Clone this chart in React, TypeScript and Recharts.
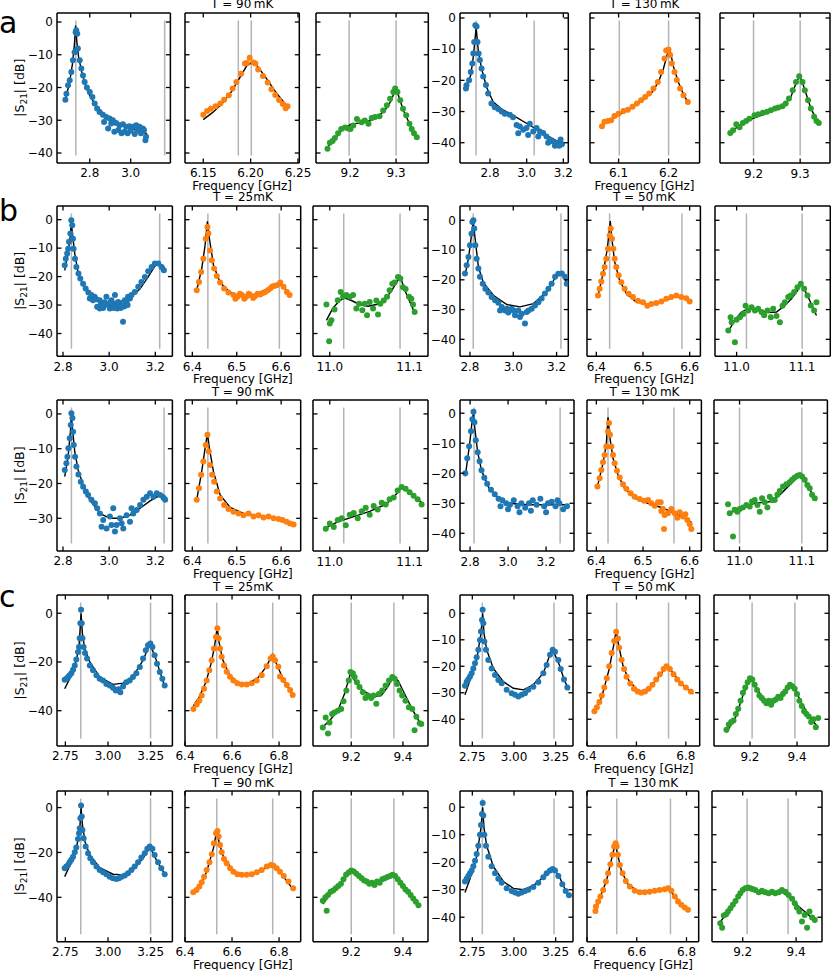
import React from "react";
import { ComposedChart, Scatter, Line, XAxis, YAxis } from "recharts";

type Pt = [number, number];

// ---------------- data ----------------
// row a
const a1Pts: Pt[] = [[2.681,-23.7],[2.686,-21.9],[2.694,-19.3],[2.702,-17.8],[2.710,-15.3],[2.718,-11.7],[2.726,-9.2],[2.731,-3.1],[2.734,-2.5],[2.739,-3.6],[2.742,-8.1],[2.751,-11.7],[2.759,-14.2],[2.767,-16.3],[2.775,-18.3],[2.786,-20],[2.800,-21.4],[2.813,-22.9],[2.824,-24.9],[2.836,-26.4],[2.848,-27.5],[2.864,-28.3],[2.881,-29],[2.897,-29.5],[2.913,-30],[2.929,-30.8],[2.946,-31.5],[2.962,-31.2],[2.978,-32],[2.994,-31.8],[3.011,-32],[3.027,-31.5],[3.043,-32],[3.059,-32.5],[3.072,-36.1],[3.075,-35],[2.870,-30.5],[2.890,-32.5],[2.905,-31],[2.920,-33.5],[2.940,-33],[2.955,-34],[2.970,-33.5],[2.985,-34],[3.000,-33.2],[3.020,-34.2],[3.035,-33],[3.050,-34],[3.065,-33]];
const a1Fit: Pt[] = [[2.678,-24],[2.70,-19],[2.715,-13],[2.725,-7],[2.731,-1.1],[2.737,-6],[2.745,-10.5],[2.76,-15],[2.78,-19.5],[2.80,-22.5],[2.83,-25.5],[2.86,-27.5],[2.90,-29.5],[2.95,-31.2],[3.0,-32.5],[3.05,-33.5],[3.08,-34.1]];
const a1Res = [2.732, 3.166];

const a2Pts: Pt[] = [[6.150,-28.3],[6.154,-27.2],[6.158,-26.5],[6.163,-25.7],[6.168,-24.9],[6.172,-23.7],[6.177,-22.4],[6.181,-20.3],[6.185,-18.3],[6.190,-15.8],[6.194,-12.7],[6.196,-12.5],[6.199,-10.9],[6.203,-12.4],[6.205,-12.7],[6.208,-14.5],[6.213,-16.5],[6.218,-18.5],[6.222,-20.5],[6.226,-22.3],[6.230,-23.8],[6.234,-25],[6.237,-26.3],[6.239,-25.7]];
const a2Fit: Pt[] = [[6.15,-29.8],[6.16,-27.6],[6.17,-24.9],[6.18,-21.2],[6.19,-16.3],[6.196,-13.3],[6.2015,-12.3],[6.207,-13.4],[6.215,-16.5],[6.225,-20.8],[6.235,-24.5],[6.24,-26.2]];
const a2Res = [6.187, 6.2007];

const a3Pts: Pt[] = [[9.151,-38.7],[9.156,-36.9],[9.162,-36.3],[9.167,-35.4],[9.174,-34],[9.181,-32.7],[9.189,-32.2],[9.196,-32.5],[9.201,-32.7],[9.207,-31.6],[9.215,-29.6],[9.225,-30.6],[9.232,-30.1],[9.240,-31.1],[9.247,-29.3],[9.254,-29],[9.264,-28.8],[9.272,-27],[9.280,-25.4],[9.287,-23.4],[9.294,-21.4],[9.298,-20.3],[9.303,-21.4],[9.309,-23.9],[9.315,-26.5],[9.322,-28.5],[9.329,-31.1],[9.334,-32.7],[9.339,-34],[9.345,-35.2]];
const a3Fit: Pt[] = [[9.150,-38.4],[9.167,-35.6],[9.185,-32.7],[9.203,-31.1],[9.225,-30.8],[9.247,-30],[9.264,-28.5],[9.278,-26.5],[9.29,-23.9],[9.298,-20.6],[9.305,-22.4],[9.316,-27],[9.331,-31.6],[9.345,-35.3]];
const a3Res = [9.198, 9.30];

const a4Pts: Pt[] = [[2.669,-22.6],[2.672,-21.6],[2.686,-20],[2.695,-17.3],[2.704,-14.6],[2.709,-11.4],[2.714,-7.7],[2.720,-2.3],[2.727,-2.7],[2.732,-7.7],[2.738,-11.4],[2.745,-13.5],[2.754,-16.2],[2.763,-18.8],[2.778,-21.5],[2.790,-24.2],[2.808,-27.4],[2.826,-28.6],[2.845,-29.2],[2.863,-30],[2.881,-30.7],[2.908,-31],[2.926,-31.8],[2.945,-34.3],[2.954,-37],[2.963,-34.8],[2.981,-35.8],[2.999,-35.3],[3.008,-37.5],[3.017,-33.9],[3.036,-36.4],[3.054,-35.3],[3.063,-38],[3.072,-36.4],[3.090,-36.9],[3.108,-38],[3.117,-40],[3.127,-39],[3.145,-39.6],[3.154,-41],[3.163,-40.1],[3.177,-41],[3.185,-39],[3.192,-40.5]];
const a4Fit: Pt[] = [[2.669,-23.1],[2.695,-18.3],[2.709,-12.5],[2.7245,-3],[2.736,-10.3],[2.754,-16.2],[2.781,-22.1],[2.817,-26.9],[2.863,-29.2],[2.926,-31.2],[3.017,-34.4],[3.108,-37.6],[3.177,-39.8],[3.195,-40.5]];
const a4Res = [2.724, 3.041];

const a5Pts: Pt[] = [[6.0668,-34.7],[6.0718,-33.3],[6.0785,-33],[6.0851,-32.8],[6.0918,-31.4],[6.0998,-30.7],[6.1098,-29.8],[6.1185,-29.4],[6.1278,-28.5],[6.1365,-27.4],[6.1451,-26.4],[6.1531,-25.3],[6.1611,-24.2],[6.1698,-22.6],[6.1785,-20.5],[6.1851,-17.3],[6.1918,-13],[6.1951,-10.4],[6.1998,-10.1],[6.2031,-11.9],[6.2065,-14.6],[6.2118,-17.3],[6.2165,-19.9],[6.2231,-22.6],[6.2298,-24.8],[6.2385,-26.9]];
const a5Fit: Pt[] = [[6.0668,-34.4],[6.0868,-32.3],[6.1068,-30.5],[6.1268,-28.8],[6.1468,-26.6],[6.1668,-23.8],[6.1798,-20.5],[6.1898,-16.2],[6.2005,-9.8],[6.2031,-10.5],[6.2098,-15.6],[6.2198,-20.7],[6.2298,-24.5],[6.2398,-27.4]];
const a5Res = [6.1014, 6.2];

const a6Pts: Pt[] = [[9.150,-36.9],[9.156,-36],[9.163,-34.1],[9.170,-35],[9.177,-33.7],[9.184,-33],[9.191,-32.3],[9.202,-31.2],[9.210,-30.9],[9.220,-30.4],[9.229,-30.1],[9.237,-29.6],[9.246,-29],[9.253,-28.7],[9.262,-28.3],[9.269,-27.4],[9.276,-25.8],[9.284,-23.2],[9.291,-20.5],[9.298,-18.7],[9.305,-20.5],[9.310,-23.2],[9.317,-26.4],[9.323,-29],[9.330,-31.7],[9.335,-33],[9.340,-33.7]];
const a6Fit: Pt[] = [[9.149,-37.1],[9.166,-34.8],[9.188,-32.8],[9.216,-31.2],[9.244,-29.6],[9.266,-27.9],[9.280,-25.3],[9.291,-21],[9.299,-18.4],[9.308,-22.1],[9.323,-29],[9.340,-34.1]];
const a6Res = [9.2, 9.3];

// row b, first line
const b1Pts: Pt[] = [[2.8075,-16],[2.812,-13.7],[2.818,-11.9],[2.8225,-10.2],[2.826,-7.8],[2.832,-4.9],[2.836,-0.2],[2.84,-2],[2.843,-6.7],[2.846,-10.2],[2.852,-13.7],[2.858,-16.6],[2.867,-18.9],[2.875,-20.7],[2.887,-22.5],[2.898,-24.2],[2.910,-25.6],[2.916,-27.7],[2.923,-26.5],[2.930,-28.3],[2.937,-27.1],[2.945,-28],[2.948,-30.6],[2.959,-31.2],[2.959,-28.3],[2.965,-29.5],[2.974,-30.1],[2.974,-31],[2.98,-29],[2.988,-27.1],[2.995,-30],[3.003,-31.2],[3.005,-29],[3.010,-28.3],[3.017,-30.1],[3.02,-31],[3.025,-26.5],[3.03,-29.5],[3.035,-31.2],[3.039,-28.9],[3.046,-29.5],[3.05,-31],[3.053,-30.1],[3.060,-35.9],[3.065,-30.5],[3.068,-28.3],[3.075,-29.1],[3.08,-30],[3.082,-27.1],[3.090,-27.7],[3.097,-26.5],[3.111,-25.4],[3.126,-23.6],[3.140,-21.9],[3.155,-20.1],[3.169,-18.1],[3.184,-16.6],[3.198,-15.4],[3.213,-15.4],[3.227,-16.6],[3.237,-17.8]];
const b1Fit: Pt[] = [[2.8075,-17.8],[2.8225,-11.3],[2.832,-5.5],[2.836,-0.6],[2.84,-4.3],[2.851,-11.9],[2.865,-18.4],[2.887,-23],[2.916,-26.5],[2.959,-28.7],[3.003,-29.1],[3.046,-28.9],[3.09,-27.5],[3.133,-24.4],[3.169,-20.1],[3.198,-16.3],[3.217,-15.4],[3.235,-16.4],[3.245,-17.8]];
const b1Res = [2.8365, 3.219];

const b2Pts: Pt[] = [[6.4099,-24.8],[6.415,-21.9],[6.4199,-18.4],[6.4249,-13.7],[6.4302,-6.7],[6.434,-2.6],[6.4363,-4.9],[6.44,-10.8],[6.4438,-14.3],[6.4491,-17.2],[6.4551,-19.8],[6.4626,-22.1],[6.4716,-24.2],[6.4814,-25.6],[6.4927,-26.5],[6.497,-27.8],[6.5017,-27.1],[6.507,-26],[6.5115,-26.5],[6.517,-27.8],[6.5213,-27.1],[6.527,-26],[6.5303,-26.5],[6.537,-27.5],[6.5416,-26.8],[6.547,-26],[6.5529,-26.3],[6.559,-25.8],[6.5642,-25.4],[6.57,-24.8],[6.5755,-24.2],[6.58,-23.5],[6.5845,-23.3],[6.59,-23],[6.598,-22.1],[6.6054,-23.6],[6.613,-25.4],[6.619,-26.5]];
const b2Fit: Pt[] = [[6.4099,-24.8],[6.4212,-17.2],[6.4287,-9],[6.434,-0.6],[6.4385,-6.7],[6.4476,-16],[6.4626,-22.1],[6.4852,-25.6],[6.5077,-26.8],[6.5378,-26.5],[6.5679,-24.4],[6.5867,-23],[6.598,-22.8],[6.609,-24.2],[6.62,-27.1]];
const b2Res = [6.435, 6.596];

const b3Pts: Pt[] = [[10.9958,-29.8],[10.9992,-42.7],[11.0,-36.5],[11.002,-35.3],[11.006,-31.6],[11.010,-28.3],[11.0137,-25.4],[11.0167,-27.1],[11.0208,-26.5],[11.025,-27.1],[11.0292,-26.5],[11.0333,-31.2],[11.0367,-29.5],[11.0408,-31.8],[11.0437,-29.5],[11.0467,-33.6],[11.05,-28.9],[11.0542,-31.2],[11.0583,-28.4],[11.0604,-33.3],[11.0633,-29.5],[11.0675,-28.4],[11.0717,-27.1],[11.075,-24.8],[11.0783,-22.5],[11.0812,-22.1],[11.0854,-20.1],[11.0883,-20.7],[11.0917,-23.7],[11.095,-24.4],[11.0992,-27.1],[11.1021,-27.8],[11.1042,-29.8],[11.1063,-32.4]];
const b3Fit: Pt[] = [[10.9958,-35.4],[11.004,-31],[11.0125,-28.4],[11.0187,-27.5],[11.0271,-28.4],[11.0375,-29.8],[11.0479,-30.4],[11.0583,-29.8],[11.0687,-28.1],[11.0771,-25.1],[11.0833,-22.2],[11.0883,-19.9],[11.0937,-24.6],[11.1,-28.7],[11.1063,-32.7]];
const b3Res = [11.0175, 11.088];

const b4Pts: Pt[] = [[2.777,-17.9],[2.785,-15.1],[2.793,-12.3],[2.800,-8.4],[2.807,-4.5],[2.811,-0.6],[2.816,0],[2.820,-2.8],[2.825,-8.4],[2.831,-12.9],[2.839,-16.2],[2.846,-19],[2.859,-21.3],[2.871,-23],[2.885,-24.3],[2.900,-25.8],[2.916,-26.9],[2.931,-27.7],[2.939,-30.3],[2.947,-29.1],[2.962,-30.3],[2.970,-29.7],[2.977,-31],[2.993,-29.7],[3.000,-30.3],[3.008,-31.9],[3.023,-30.3],[3.031,-32.5],[3.039,-31.4],[3.054,-34.7],[3.062,-30.8],[3.070,-30.3],[3.085,-29.7],[3.100,-28.6],[3.116,-27.5],[3.131,-26.3],[3.146,-24.6],[3.162,-23],[3.177,-21.3],[3.193,-19],[3.208,-18],[3.224,-17.9],[3.239,-19],[3.247,-21.3]];
const b4Fit: Pt[] = [[2.777,-18.5],[2.793,-12.9],[2.807,-5],[2.815,-0.3],[2.822,-5],[2.839,-15.7],[2.862,-21],[2.908,-25.2],[2.97,-28.3],[3.031,-29.1],[3.093,-28],[3.154,-24.1],[3.2,-18.5],[3.212,-17.6],[3.224,-17.4],[3.247,-21]];
const b4Res = [2.815, 3.22];

const b5Pts: Pt[] = [[6.4036,-25.3],[6.4071,-23],[6.4107,-20.6],[6.4143,-18],[6.4178,-15.7],[6.4214,-12.9],[6.425,-9.6],[6.4285,-5.1],[6.4307,-2.8],[6.4336,-6.2],[6.4364,-9.6],[6.4393,-12.9],[6.4428,-15.7],[6.4478,-18.5],[6.4535,-20.8],[6.4607,-23],[6.4692,-24.7],[6.4785,-25.8],[6.4892,-27],[6.4999,-27.5],[6.5092,-28.7],[6.5178,-28.1],[6.5285,-27.8],[6.5392,-27.3],[6.5499,-26.4],[6.5606,-25.8],[6.5713,-25.3],[6.582,-25.8],[6.5927,-26.2],[6.6,-27.3]];
const b5Fit: Pt[] = [[6.4036,-25.3],[6.4143,-18],[6.4235,-9.6],[6.4299,-0.3],[6.4336,-6.7],[6.4393,-14],[6.45,-20.2],[6.4642,-24.5],[6.4856,-27.5],[6.5106,-28.1],[6.5392,-27.3],[6.5677,-25.8],[6.5892,-25.8],[6.602,-27.5]];
const b5Res = [6.4285, 6.5835];

const b6Pts: Pt[] = [[10.9873,-37],[10.9908,-32.6],[10.9924,-34.3],[10.9974,-41],[10.9999,-33.4],[11.005,-32.6],[11.0101,-31.5],[11.0137,-28.7],[11.0177,-30.3],[11.0228,-29.2],[11.0279,-30.3],[11.0329,-29.7],[11.038,-30.8],[11.0421,-31.9],[11.0471,-30.3],[11.0522,-32.6],[11.0558,-29.7],[11.0609,-32.2],[11.066,-34.3],[11.07,-28.7],[11.0736,-27.5],[11.0787,-25.8],[11.0827,-25.3],[11.0878,-24.1],[11.0929,-22.5],[11.098,-21.3],[11.1031,-23],[11.1082,-25.3],[11.1132,-28.6],[11.1183,-30.3],[11.1219,-27.5]];
const b6Fit: Pt[] = [[10.9873,-37.4],[10.9974,-33.4],[11.0075,-30.8],[11.0177,-29.7],[11.0329,-30.3],[11.0482,-31],[11.0609,-30.8],[11.0736,-28.6],[11.0837,-26.4],[11.0929,-23.6],[11.099,-21.3],[11.1092,-25.8],[11.1219,-32]];
const b6Res = [11.015, 11.1];

// row b, second line
const b7Pts: Pt[] = [[2.8075,-16.1],[2.8147,-14.2],[2.819,-12.3],[2.8234,-9.9],[2.8292,-7],[2.8335,-3.2],[2.8364,0.2],[2.8408,-1.2],[2.8437,-5.1],[2.8466,-8.9],[2.8524,-12.3],[2.8582,-15.1],[2.8669,-17.4],[2.877,-19.5],[2.8872,-20.9],[2.8988,-22.3],[2.9089,-23.3],[2.9234,-24.7],[2.938,-25.7],[2.9481,-27.1],[2.9597,-28.6],[2.967,-32.4],[2.9742,-30.5],[2.9887,-32.9],[3.0032,-29.5],[3.01,-31.9],[3.0177,-27.1],[3.025,-33.8],[3.0322,-31.9],[3.0467,-30],[3.054,-31.4],[3.0612,-32.9],[3.0757,-29.1],[3.0902,-31],[3.097,-27.1],[3.1047,-28.6],[3.1193,-27.6],[3.1338,-26.2],[3.1483,-24.7],[3.1628,-23.8],[3.1773,-22.8],[3.1918,-23.8],[3.2063,-22.8],[3.2208,-23.3],[3.2353,-24.1],[3.2426,-24.7]];
const b7Fit: Pt[] = [[2.8075,-18],[2.822,-12.3],[2.8321,-5.1],[2.8364,-0.3],[2.8408,-4.1],[2.8509,-10.8],[2.8654,-16.1],[2.8872,-20.4],[2.9162,-24.7],[2.9597,-28.6],[3.0032,-30],[3.0467,-30],[3.0902,-29.1],[3.1338,-27.1],[3.1773,-25],[3.2136,-23.6],[3.2353,-23.3],[3.2498,-24.3]];
const b7Res = [2.8365, 3.238];

const b8Pts: Pt[] = [[6.4099,-24.7],[6.415,-21.4],[6.4199,-17.5],[6.4249,-13.7],[6.4302,-8.9],[6.434,-6],[6.4371,-10.8],[6.44,-14.7],[6.4446,-17.5],[6.4491,-19.5],[6.4551,-22.3],[6.4626,-24.3],[6.4716,-26.2],[6.4814,-27.3],[6.4927,-28.1],[6.504,-28.6],[6.5153,-29.1],[6.5265,-28.6],[6.5378,-29.5],[6.5491,-29.1],[6.5604,-29.8],[6.5717,-29.5],[6.583,-30],[6.5943,-30.2],[6.603,-30.5],[6.612,-31],[6.62,-31.5],[6.628,-31.8]];
const b8Fit: Pt[] = [[6.4099,-24.7],[6.4212,-16.5],[6.4287,-9.9],[6.434,-5.6],[6.4385,-9.9],[6.4476,-16.6],[6.4626,-23.3],[6.4852,-26.9],[6.5153,-28.6],[6.5529,-29.3],[6.583,-30],[6.61,-30.6],[6.633,-31.8]];
const b8Res = [6.435];

const b9Pts: Pt[] = [[10.995,-33],[11.0,-31.5],[11.005,-32.5],[11.01,-30.5],[11.015,-30],[11.02,-32],[11.025,-29],[11.03,-28.5],[11.035,-30],[11.04,-28],[11.045,-27],[11.05,-29],[11.055,-26.5],[11.06,-27.5],[11.065,-25.5],[11.07,-26],[11.075,-24.5],[11.08,-24],[11.085,-22],[11.09,-21],[11.095,-21.5],[11.1,-22.5],[11.105,-23.5],[11.11,-24.5],[11.115,-26]];
const b9Fit: Pt[] = [[10.993,-33],[11.01,-31],[11.03,-29.5],[11.05,-28],[11.07,-26],[11.08,-24],[11.09,-21],[11.1,-22.5],[11.115,-25.5]];
const b9Res = [11.0175, 11.088];

const b10Pts: Pt[] = [[2.775,-20],[2.785,-15],[2.795,-11],[2.805,-6],[2.812,-2],[2.818,0.5],[2.823,-3],[2.83,-9],[2.84,-13],[2.85,-16],[2.86,-19],[2.875,-21.5],[2.89,-23.5],[2.91,-25.5],[2.93,-27],[2.95,-28.5],[2.96,-31],[2.97,-29],[2.99,-30],[3.0,-32],[3.01,-30.5],[3.03,-29],[3.05,-31],[3.06,-33],[3.07,-30],[3.09,-31.5],[3.11,-30],[3.12,-32.5],[3.13,-29],[3.15,-30.5],[3.17,-28.5],[3.19,-31],[3.2,-33],[3.21,-30],[3.23,-29.5],[3.25,-31],[3.26,-29],[3.27,-30],[3.29,-32],[3.31,-31]];
const b10Fit: Pt[] = [[2.775,-21],[2.8,-9],[2.812,-2],[2.818,0],[2.825,-5],[2.84,-13],[2.86,-19],[2.9,-25],[2.95,-28.5],[3.0,-30],[3.1,-30.5],[3.2,-30.5],[3.3,-30.5],[3.32,-30.5]];
const b10Res = [2.821, 3.274];

const b11Pts: Pt[] = [[6.4023,-24.4],[6.4071,-21.7],[6.4107,-18.9],[6.4143,-16.3],[6.4178,-13.9],[6.4214,-11.1],[6.425,-6.1],[6.4271,-3.3],[6.4292,-7.2],[6.4321,-11.1],[6.4357,-13.9],[6.4392,-16.7],[6.4442,-19.2],[6.45,-21.4],[6.4571,-23.7],[6.4642,-25.2],[6.4735,-26.7],[6.4821,-27.8],[6.4928,-28.6],[6.5021,-29.2],[6.5106,-28.9],[6.5178,-30],[6.525,-30.8],[6.5321,-29.7],[6.5378,-29.7],[6.5392,-32.6],[6.5428,-31.9],[6.5449,-38.6],[6.5463,-33.9],[6.5535,-33.3],[6.5606,-31.9],[6.5677,-33.3],[6.5735,-34.8],[6.5785,-33],[6.5856,-34.4],[6.5906,-33.7],[6.5949,-35.6],[6.6,-37],[6.6035,-38.6]];
const b11Fit: Pt[] = [[6.4023,-24.4],[6.4143,-16.7],[6.4214,-10.3],[6.425,-1.4],[6.4292,-8.3],[6.4357,-15],[6.4464,-20.6],[6.4607,-25],[6.4821,-28.3],[6.5106,-30],[6.5392,-31.4],[6.5677,-33.3],[6.5892,-35],[6.6035,-36.3]];
const b11Res = [6.425, 6.5663];

const b12Pts: Pt[] = [[10.9815,-30.3],[10.9842,-33.3],[10.9895,-41.1],[10.9922,-32.2],[10.9965,-32.8],[11.0002,-31.9],[11.0056,-31.4],[11.011,-30.6],[11.0163,-31.1],[11.0201,-29.4],[11.0244,-28.9],[11.0287,-30.6],[11.0324,-32.8],[11.0361,-28.3],[11.0404,-29.7],[11.0447,-31.4],[11.0485,-27.8],[11.0522,-28.9],[11.0565,-28.9],[11.0607,-27.2],[11.0645,-25.9],[11.0698,-24.4],[11.0752,-23.7],[11.0805,-23],[11.0843,-22.2],[11.0886,-21.4],[11.0929,-20.8],[11.0966,-20.6],[11.1003,-21.1],[11.1046,-22.2],[11.1089,-23.9],[11.1126,-25],[11.1164,-27.2],[11.1207,-28.3]];
const b12Fit: Pt[] = [[10.9815,-33.7],[10.9976,-31.7],[11.0244,-30],[11.0511,-29.4],[11.0672,-26.7],[11.0832,-23.3],[11.0982,-20.3],[11.1099,-24.4],[11.1233,-29.2]];
const b12Res = [11.0, 11.1];

// row c, first line
const c1Pts: Pt[] = [[2.746,-27.3],[2.756,-26.9],[2.766,-26.2],[2.775,-25.5],[2.785,-24.6],[2.795,-23.2],[2.805,-21.4],[2.814,-19],[2.824,-15.9],[2.83,-13.8],[2.834,-10.3],[2.838,-4.1],[2.842,1.4],[2.846,-4.1],[2.85,-10.3],[2.857,-13.8],[2.865,-16.3],[2.877,-18.6],[2.893,-21.4],[2.912,-23.4],[2.932,-25.5],[2.951,-26.9],[2.971,-27.6],[2.99,-29],[3.01,-29.7],[3.029,-30.6],[3.045,-31.7],[3.061,-31.2],[3.072,-32.4],[3.088,-30.1],[3.107,-28.3],[3.127,-27.6],[3.146,-26.2],[3.166,-24.6],[3.186,-22.1],[3.205,-18.6],[3.221,-15.2],[3.234,-13.1],[3.248,-12.4],[3.26,-13.8],[3.273,-17.2],[3.287,-20.7],[3.303,-24.1],[3.318,-26.9],[3.332,-29.7]];
const c1Fit: Pt[] = [[2.746,-31],[2.785,-25.5],[2.814,-19.3],[2.83,-13.8],[2.842,0],[2.85,-8.3],[2.863,-14.5],[2.893,-20],[2.951,-26.2],[3.029,-29.2],[3.088,-28.7],[3.146,-25.9],[3.205,-19.3],[3.244,-12.7],[3.273,-17.2],[3.332,-30.1]];
const c1Res = [2.840, 3.249];

const c2Pts: Pt[] = [[6.4355,-39.3],[6.4498,-37.5],[6.461,-35.9],[6.471,-33.8],[6.481,-31],[6.4923,-27.6],[6.5035,-23.4],[6.5135,-19.3],[6.5234,-14.5],[6.5319,-9.7],[6.5376,-6.2],[6.5433,-10.3],[6.5489,-14.5],[6.556,-17.9],[6.566,-21.4],[6.5773,-24],[6.5915,-26.1],[6.6057,-27.6],[6.6227,-28.7],[6.6411,-29.2],[6.6624,-29.2],[6.6837,-28.7],[6.705,-27.6],[6.7262,-25.5],[6.7475,-21.8],[6.7645,-18.6],[6.773,-17.7],[6.783,-19.3],[6.797,-22],[6.804,-26],[6.818,-27.4],[6.833,-29.5],[6.847,-31.5],[6.858,-33.6]];
const c2Fit: Pt[] = [[6.4355,-38],[6.46,-34.5],[6.49,-28],[6.51,-21],[6.525,-14],[6.537,-5.8],[6.545,-12],[6.56,-19],[6.59,-25.5],[6.63,-28.8],[6.67,-28.8],[6.71,-26.5],[6.745,-22],[6.772,-17],[6.79,-21],[6.82,-27.5],[6.86,-34]];
const c2Res = [6.535, 6.773];

const c3Pts: Pt[] = [[9.090,-46.9],[9.101,-42.8],[9.11,-49.4],[9.116,-44.8],[9.126,-41.4],[9.135,-40.7],[9.148,-40],[9.161,-39.3],[9.17,-36.1],[9.181,-31.7],[9.19,-27.6],[9.197,-24.1],[9.206,-24.6],[9.213,-26.2],[9.222,-28.3],[9.232,-30.3],[9.245,-32.4],[9.255,-34.8],[9.265,-33.8],[9.277,-34.8],[9.286,-33.8],[9.297,-37.2],[9.307,-33.1],[9.32,-31.7],[9.333,-29.7],[9.346,-27.6],[9.359,-26.2],[9.368,-26.9],[9.377,-29],[9.387,-31.7],[9.397,-33.8],[9.41,-35.9],[9.423,-38.6],[9.436,-39.3],[9.445,-48],[9.452,-42.5],[9.465,-45.2],[9.471,-45.5]];
const c3Fit: Pt[] = [[9.084,-47.2],[9.116,-44.1],[9.148,-40],[9.174,-33.1],[9.197,-24.6],[9.213,-27.6],[9.245,-31.7],[9.284,-34.2],[9.316,-33.8],[9.342,-30.1],[9.361,-26.2],[9.381,-27.6],[9.413,-34.5],[9.439,-40],[9.467,-45.2]];
const c3Res = [9.2, 9.365];

const c4Pts: Pt[] = [[2.706,-27.4],[2.716,-25.8],[2.726,-24.9],[2.736,-23.9],[2.746,-22.6],[2.756,-20.8],[2.766,-18.9],[2.776,-16.6],[2.786,-13.8],[2.796,-10.1],[2.802,-6.9],[2.808,-2.5],[2.812,1.3],[2.816,-3.8],[2.822,-10.7],[2.832,-13.8],[2.846,-17.6],[2.866,-20.8],[2.886,-23.3],[2.906,-25.2],[2.926,-26.4],[2.956,-28.9],[2.986,-30.2],[3.006,-30.8],[3.026,-31.4],[3.046,-30.8],[3.066,-30.2],[3.086,-28.9],[3.116,-27.7],[3.146,-25.8],[3.176,-22.6],[3.196,-19.5],[3.216,-15.7],[3.232,-13.8],[3.246,-14.5],[3.266,-17.6],[3.28,-21],[3.30,-25],[3.32,-28]];
const c4Fit: Pt[] = [[2.706,-30.8],[2.736,-25.2],[2.776,-17.6],[2.802,-7.5],[2.812,0],[2.82,-7.5],[2.836,-13.8],[2.876,-20.8],[2.936,-25.8],[2.996,-28.3],[3.056,-28.9],[3.116,-27],[3.176,-22.6],[3.226,-13.8],[3.246,-15.7],[3.276,-20.1],[3.3,-25],[3.33,-29]];
const c4Res = [2.81, 3.24];

const c5Pts: Pt[] = [[6.43,-37],[6.44,-35.5],[6.45,-33.5],[6.46,-31],[6.47,-28],[6.48,-24.5],[6.49,-20],[6.5,-15],[6.51,-10.5],[6.518,-7],[6.525,-9.5],[6.53,-13],[6.54,-17.5],[6.55,-21],[6.56,-24],[6.575,-26.5],[6.59,-28.5],[6.605,-29.5],[6.62,-30],[6.635,-29.5],[6.65,-28.5],[6.665,-27],[6.68,-25],[6.695,-23],[6.71,-21],[6.722,-20],[6.735,-21],[6.75,-23],[6.765,-25],[6.78,-26.5],[6.8,-28],[6.82,-29.5]];
const c5Fit: Pt[] = [[6.43,-38],[6.46,-31.5],[6.49,-21],[6.51,-11],[6.518,-6.5],[6.528,-12],[6.545,-19.5],[6.57,-25.5],[6.61,-29.5],[6.65,-28.5],[6.69,-24],[6.715,-21],[6.725,-20],[6.74,-21.5],[6.78,-26.5],[6.83,-30.5]];
const c5Res = [6.52, 6.73];

const c6Pts: Pt[] = [[9.1,-44],[9.11,-42],[9.12,-41],[9.13,-40.5],[9.14,-38],[9.15,-36],[9.16,-33],[9.17,-30],[9.18,-28],[9.19,-26],[9.2,-24.5],[9.21,-25],[9.22,-27],[9.23,-29],[9.24,-31],[9.25,-32],[9.26,-33],[9.27,-34],[9.28,-33],[9.29,-34.5],[9.3,-33],[9.31,-32.5],[9.32,-31.5],[9.33,-32],[9.34,-30.5],[9.35,-29.5],[9.36,-28],[9.37,-27],[9.38,-27.5],[9.39,-28.5],[9.4,-30.5],[9.41,-33],[9.42,-35],[9.43,-37],[9.44,-38],[9.45,-39],[9.46,-41],[9.47,-40],[9.48,-43],[9.49,-39.5]];
const c6Fit: Pt[] = [[9.1,-45],[9.14,-39],[9.17,-31],[9.19,-26.5],[9.205,-24.5],[9.22,-27],[9.26,-33],[9.3,-33.5],[9.34,-30],[9.37,-26.5],[9.385,-27.5],[9.42,-34],[9.46,-40],[9.49,-43]];
const c6Res = [9.209, 9.391];

// row c, second line
const c7Pts: Pt[] = [[2.746,-27.1],[2.756,-26.3],[2.766,-25.6],[2.775,-24.4],[2.785,-23.3],[2.795,-21.9],[2.805,-19.9],[2.814,-17.8],[2.824,-14],[2.83,-11.4],[2.834,-9.2],[2.838,-4.8],[2.842,0.9],[2.846,-4],[2.85,-10],[2.857,-13.7],[2.869,-17.4],[2.883,-20.4],[2.896,-22.6],[2.912,-24.4],[2.932,-26.3],[2.951,-27.8],[2.971,-28.8],[2.99,-29.7],[3.01,-30.8],[3.029,-31.5],[3.049,-31.8],[3.064,-31.5],[3.08,-30.8],[3.098,-30.3],[3.117,-29.3],[3.137,-27.8],[3.156,-26.3],[3.176,-24.4],[3.195,-22.3],[3.215,-20.4],[3.23,-18.4],[3.244,-17.4],[3.26,-18.4],[3.273,-21.1],[3.293,-24.4],[3.312,-27.1],[3.332,-29.7]];
const c7Fit: Pt[] = [[2.746,-30.8],[2.785,-24.4],[2.818,-16.7],[2.834,-10],[2.842,0],[2.85,-7.7],[2.865,-15.2],[2.893,-21.1],[2.951,-26.8],[3.029,-29.7],[3.088,-30],[3.146,-27.8],[3.205,-22.6],[3.24,-18.1],[3.254,-18.9],[3.283,-23.3],[3.332,-29.7]];
const c7Res = [2.840, 3.249];

const c8Pts: Pt[] = [[6.435,-37.8],[6.449,-36.7],[6.461,-35.2],[6.471,-33.3],[6.481,-30.8],[6.492,-27.8],[6.504,-24.4],[6.514,-20.8],[6.523,-15.9],[6.532,-11.4],[6.538,-10.4],[6.543,-12.9],[6.549,-16.7],[6.556,-19.9],[6.566,-22.9],[6.577,-24.8],[6.592,-27.1],[6.606,-28.6],[6.623,-29.7],[6.641,-30],[6.662,-30],[6.684,-29.7],[6.705,-28.8],[6.726,-27.8],[6.748,-26.3],[6.765,-25.6],[6.776,-25.9],[6.79,-27.1],[6.804,-28.6],[6.82,-30.5],[6.84,-33],[6.86,-36]];
const c8Fit: Pt[] = [[6.435,-38.2],[6.464,-35.2],[6.492,-28.6],[6.521,-18.1],[6.535,-10.4],[6.546,-15.9],[6.563,-21.9],[6.606,-28.6],[6.662,-30.3],[6.719,-28.6],[6.762,-25.3],[6.773,-25],[6.797,-27.8],[6.82,-31],[6.86,-36.5]];
const c8Res = [6.535, 6.773];

const c9Pts: Pt[] = [[9.09,-41.5],[9.1,-40],[9.105,-46],[9.11,-39],[9.12,-37.5],[9.13,-37],[9.14,-36],[9.15,-35],[9.16,-34],[9.17,-32],[9.18,-30],[9.19,-29],[9.2,-28],[9.21,-28.5],[9.22,-29.5],[9.23,-30.5],[9.24,-31.5],[9.25,-32.5],[9.26,-33],[9.27,-34],[9.28,-33.5],[9.29,-34.5],[9.3,-33],[9.31,-33.5],[9.32,-32],[9.33,-31.5],[9.34,-31],[9.35,-30.5],[9.36,-30],[9.37,-30.5],[9.38,-32],[9.39,-33.5],[9.4,-35],[9.41,-36.5],[9.42,-37.5],[9.43,-39],[9.44,-40.5],[9.45,-42],[9.46,-43.5]];
const c9Fit: Pt[] = [[9.09,-43],[9.12,-38.5],[9.15,-35],[9.18,-30.5],[9.2,-28],[9.22,-29.5],[9.26,-33],[9.3,-33.5],[9.34,-31],[9.365,-30],[9.39,-33],[9.43,-38.5],[9.46,-43]];
const c9Res = [9.2, 9.365];

const c10Pts: Pt[] = [[2.706,-27],[2.716,-26],[2.726,-25],[2.736,-24],[2.746,-23],[2.756,-21.5],[2.766,-19.5],[2.776,-17],[2.786,-14],[2.796,-10],[2.802,-6.5],[2.808,-2.5],[2.812,1.5],[2.816,-3],[2.822,-10],[2.832,-14],[2.846,-18],[2.866,-21.5],[2.886,-24],[2.906,-26],[2.926,-27.5],[2.956,-29.5],[2.986,-30.5],[3.006,-31],[3.026,-31.5],[3.046,-31],[3.066,-30.5],[3.086,-30],[3.116,-29],[3.146,-27.5],[3.176,-25.5],[3.196,-24],[3.216,-23],[3.232,-22.5],[3.246,-23],[3.266,-25],[3.29,-28],[3.31,-30.5],[3.33,-32]];
const c10Fit: Pt[] = [[2.706,-31],[2.736,-26],[2.776,-18],[2.802,-7.5],[2.812,0],[2.82,-7.5],[2.836,-14],[2.876,-21.5],[2.936,-27],[2.996,-29.5],[3.056,-30],[3.116,-28.5],[3.176,-25.5],[3.226,-22.5],[3.24,-22.5],[3.27,-25],[3.3,-29],[3.33,-32.5]];
const c10Res = [2.81, 3.24];

const c11Pts: Pt[] = [[6.434,-37.7],[6.436,-36.1],[6.445,-34.3],[6.454,-32.5],[6.465,-30.1],[6.476,-27],[6.485,-24],[6.494,-20.7],[6.502,-17.3],[6.509,-14.3],[6.515,-13.1],[6.519,-14.3],[6.524,-17.3],[6.532,-21],[6.543,-24],[6.556,-26.8],[6.572,-28.8],[6.592,-30.4],[6.612,-30.9],[6.632,-30.9],[6.652,-30.7],[6.672,-30.4],[6.692,-30.1],[6.712,-29.8],[6.726,-29.5],[6.739,-30.4],[6.753,-32.5],[6.766,-34.3],[6.779,-35.5],[6.793,-36.5],[6.806,-37.3]];
const c11Fit: Pt[] = [[6.434,-37.9],[6.451,-33.1],[6.478,-26.8],[6.498,-19.2],[6.514,-13.1],[6.522,-16.7],[6.539,-23.4],[6.566,-28.2],[6.612,-30.9],[6.665,-30.7],[6.719,-29.8],[6.732,-30.1],[6.759,-33.1],[6.806,-37.3]];
const c11Res = [6.5195, 6.7356];

const c12Pts: Pt[] = [[9.116,-42.2],[9.123,-43.8],[9.129,-39.4],[9.138,-38.9],[9.145,-37.9],[9.154,-36.7],[9.163,-35.5],[9.173,-34.1],[9.183,-32.5],[9.191,-31.3],[9.2,-30.1],[9.21,-29.5],[9.22,-29.2],[9.229,-29.5],[9.237,-29.7],[9.247,-30.1],[9.26,-30.9],[9.272,-30.4],[9.285,-30.9],[9.297,-31.3],[9.31,-30.7],[9.322,-31.3],[9.335,-30.9],[9.347,-30.1],[9.36,-30.7],[9.372,-31.9],[9.385,-33.3],[9.395,-34.9],[9.403,-36.5],[9.412,-37.9],[9.422,-41.6],[9.432,-39.2],[9.441,-43.8],[9.45,-37.9],[9.46,-40.1],[9.47,-41]];
const c12Fit: Pt[] = [[9.113,-42.2],[9.148,-37.3],[9.185,-31.9],[9.21,-29.8],[9.235,-30.4],[9.272,-31.3],[9.31,-31.6],[9.347,-30.9],[9.372,-32.5],[9.41,-36.1],[9.447,-39.2],[9.472,-41.8]];
const c12Res = [9.2165, 9.37];

// axis ticks
const tA1 = [2.8, 3.0], lA1 = ["2.8", "3.0"];
const tA2 = [6.15, 6.2, 6.25], lA2 = ["6.15", "6.20", "6.25"];
const tA3 = [9.2, 9.3], lA3 = ["9.2", "9.3"];
const tA4 = [2.8, 3.0, 3.2], lA4 = ["2.8", "3.0", "3.2"];
const tA5 = [6.1, 6.2], lA5 = ["6.1", "6.2"];
const tB1 = [2.8, 3.0, 3.2], lB1 = ["2.8", "3.0", "3.2"];
const tB2 = [6.4, 6.5, 6.6], lB2 = ["6.4", "6.5", "6.6"];
const tB3 = [11.0, 11.1], lB3 = ["11.0", "11.1"];
const tC1 = [2.75, 3.0, 3.25], lC1 = ["2.75", "3.00", "3.25"];
const tC2 = [6.4, 6.6, 6.8], lC2 = ["6.4", "6.6", "6.8"];
const tC3 = [9.2, 9.4], lC3 = ["9.2", "9.4"];
const yT10 = [-40, -30, -20, -10, 0];
const yT10s = [-30, -20, -10, 0];
const yT20 = [-40, -20, 0];

const titles = [
  ["T = 90\u2009mK", "T = 130\u2009mK"],
  ["T = 25mK", "T = 50\u2009mK"],
  ["T = 90\u2009mK", "T = 130\u2009mK"],
  ["T = 25mK", "T = 50\u2009mK"],
  ["T = 90\u2009mK", "T = 130\u2009mK"],
];

// ---------------- layout ----------------
const BLUE = "#1f77b4", ORANGE = "#ff7f0e", GREEN = "#2ca02c";
const COLORS = [BLUE, ORANGE, GREEN, BLUE, ORANGE, GREEN];
const FONT = "DejaVu Sans, Verdana, sans-serif";

type PanelDef = { pts: Pt[]; fit: Pt[]; res: number[]; xd: [number, number]; xt: number[]; xl: string[] };
type RowDef = {
  top: number; bottom: number; frames: [number, number][];
  yd: [[number, number], [number, number]]; yt: [number[], number[]]; panels: PanelDef[];
};

const rows: RowDef[] = [
  {
    top: 12.7, bottom: 162.7,
    frames: [[57.3, 170.7], [185, 299.3], [316, 428.3], [460, 568.3], [589.7, 699.3], [720.3, 830.3]],
    yd: [[-43.05, 2.75], [-46.5, 1.6]], yt: [yT10, yT10],
    panels: [
      { pts: a1Pts, fit: a1Fit, res: a1Res, xd: [2.64, 3.194], xt: tA1, xl: lA1 },
      { pts: a2Pts, fit: a2Fit, res: a2Res, xd: [6.1307, 6.2514], xt: tA2, xl: lA2 },
      { pts: a3Pts, fit: a3Fit, res: a3Res, xd: [9.126, 9.37], xt: tA3, xl: lA3 },
      { pts: a4Pts, fit: a4Fit, res: a4Res, xd: [2.6365, 3.227], xt: tA4, xl: lA4 },
      { pts: a5Pts, fit: a5Fit, res: a5Res, xd: [6.0428, 6.262], xt: tA5, xl: lA5 },
      { pts: a6Pts, fit: a6Fit, res: a6Res, xd: [9.128, 9.364], xt: tA3, xl: lA3 },
    ],
  },
  {
    top: 205.7, bottom: 356,
    frames: [[57.3, 172.7], [185, 300.7], [313.3, 428.3], [460, 568.3], [587.3, 700.7], [715, 830.3]],
    yd: [[-48, 4.8], [-45.7, 4.8]], yt: [yT10, yT10],
    panels: [
      { pts: b1Pts, fit: b1Fit, res: b1Res, xd: [2.774, 3.274], xt: tB1, xl: lB1 },
      { pts: b2Pts, fit: b2Fit, res: b2Res, xd: [6.3835, 6.644], xt: tB2, xl: lB2 },
      { pts: b3Pts, fit: b3Fit, res: b3Res, xd: [10.979, 11.123], xt: tB3, xl: lB3 },
      { pts: b4Pts, fit: b4Fit, res: b4Res, xd: [2.754, 3.254], xt: tB1, xl: lB1 },
      { pts: b5Pts, fit: b5Fit, res: b5Res, xd: [6.38, 6.623], xt: tB2, xl: lB2 },
      { pts: b6Pts, fit: b6Fit, res: b6Res, xd: [10.967, 11.143], xt: tB3, xl: lB3 },
    ],
  },
  {
    top: 400, bottom: 551,
    frames: [[57.3, 172.7], [185, 300.7], [313.3, 428.3], [460, 574], [587.3, 701.7], [714.3, 827.7]],
    yd: [[-39.4, 4.0], [-45.9, 4.4]], yt: [yT10s, yT10],
    panels: [
      { pts: b7Pts, fit: b7Fit, res: b7Res, xd: [2.774, 3.274], xt: tB1, xl: lB1 },
      { pts: b8Pts, fit: b8Fit, res: b8Res, xd: [6.3835, 6.644], xt: tB2, xl: lB2 },
      { pts: b9Pts, fit: b9Fit, res: b9Res, xd: [10.979, 11.123], xt: tB3, xl: lB3 },
      { pts: b10Pts, fit: b10Fit, res: b10Res, xd: [2.747, 3.347], xt: tB1, xl: lB1 },
      { pts: b11Pts, fit: b11Fit, res: b11Res, xd: [6.38, 6.625], xt: tB2, xl: lB2 },
      { pts: b12Pts, fit: b12Fit, res: b12Res, xd: [10.959, 11.141], xt: tB3, xl: lB3 },
    ],
  },
  {
    top: 595, bottom: 746,
    frames: [[57.3, 172.7], [185, 300.7], [313.3, 428.3], [460, 573], [587.3, 700], [714, 829]],
    yd: [[-54.5, 7.5], [-50.1, 6.9]], yt: [yT20, yT10],
    panels: [
      { pts: c1Pts, fit: c1Fit, res: c1Res, xd: [2.701, 3.377], xt: tC1, xl: lC1 },
      { pts: c2Pts, fit: c2Fit, res: c2Res, xd: [6.4, 6.892], xt: tC2, xl: lC2 },
      { pts: c3Pts, fit: c3Fit, res: c3Res, xd: [9.052, 9.497], xt: tC3, xl: lC3 },
      { pts: c4Pts, fit: c4Fit, res: c4Res, xd: [2.676, 3.354], xt: tC1, xl: lC1 },
      { pts: c5Pts, fit: c5Fit, res: c5Res, xd: [6.4, 6.856], xt: tC2, xl: lC2 },
      { pts: c6Pts, fit: c6Fit, res: c6Res, xd: [9.047, 9.536], xt: tC3, xl: lC3 },
    ],
  },
  {
    top: 791, bottom: 941.7,
    frames: [[57.3, 172.7], [185, 300.7], [313.3, 428.3], [460, 573], [587.3, 699], [711.7, 821.7]],
    yd: [[-59.8, 7.4], [-48.9, 5.9]], yt: [yT20, yT10],
    panels: [
      { pts: c7Pts, fit: c7Fit, res: c7Res, xd: [2.701, 3.377], xt: tC1, xl: lC1 },
      { pts: c8Pts, fit: c8Fit, res: c8Res, xd: [6.4, 6.892], xt: tC2, xl: lC2 },
      { pts: c9Pts, fit: c9Fit, res: c9Res, xd: [9.052, 9.497], xt: tC3, xl: lC3 },
      { pts: c10Pts, fit: c10Fit, res: c10Res, xd: [2.676, 3.354], xt: tC1, xl: lC1 },
      { pts: c11Pts, fit: c11Fit, res: c11Res, xd: [6.4, 6.849], xt: tC2, xl: lC2 },
      { pts: c12Pts, fit: c12Fit, res: c12Res, xd: [9.085, 9.497], xt: tC3, xl: lC3 },
    ],
  },
];

// ---------------- rendering ----------------
const TK = 4.5;
const AX = { stroke: "#000", strokeWidth: 1.5 };
const fmtY = (v: number) => (v === 0 ? "0" : (v < 0 ? "\u2212" : "") + Math.abs(v));

const bTick = (labels: Map<number, string>) => (p: any) => {
  const { x, y, payload } = p;
  return (
    <g>
      <line x1={x} x2={x} y1={y} y2={y - TK} stroke="#000" strokeWidth={1.3} />
      <text x={x} y={y + 14.5} textAnchor="middle" fontSize={12} fontFamily={FONT} fill="#000">
        {labels.get(payload.value)}
      </text>
    </g>
  );
};
const tTick = (p: any) => {
  const { x, y } = p;
  return <line x1={x} x2={x} y1={y} y2={y + TK} stroke="#000" strokeWidth={1.3} />;
};
const lTick = (show: boolean) => (p: any) => {
  const { x, y, payload } = p;
  return (
    <g>
      <line x1={x} x2={x + TK} y1={y} y2={y} stroke="#000" strokeWidth={1.3} />
      {show && (
        <text x={x - 4} y={y + 4.3} textAnchor="end" fontSize={12} fontFamily={FONT} fill="#000">
          {fmtY(payload.value)}
        </text>
      )}
    </g>
  );
};
const rTick = (p: any) => {
  const { x, y } = p;
  return <line x1={x} x2={x - TK} y1={y} y2={y} stroke="#000" strokeWidth={1.3} />;
};

const xy = (a: Pt[]) => a.map(([x, y]) => ({ x, y }));

function Panel({ p, L, R, T, B, yd, yt, showY, color }: any) {
  const ML = 42, MR = 18, MT = 4, MB = 22;
  const w = R - L, h = B - T;
  const span = yd[1] - yd[0];
  const vls = (p.res as number[]).map((v) => [
    { x: v, y: yd[0] + 0.05 * span },
    { x: v, y: yd[0] + 0.95 * span },
  ]);
  const xlab = new Map<number, string>((p.xt as number[]).map((v, i) => [v, p.xl[i]]));
  const dot = (q: any) => <circle cx={q.cx} cy={q.cy} r={3} fill={color} />;
  return (
    <div style={{ position: "absolute", left: L - ML, top: T - MT }}>
      <ComposedChart width={w + ML + MR} height={h + MT + MB} margin={{ top: MT - 1, right: MR - 1, bottom: MB - 1, left: ML - 1 }}>
        <XAxis xAxisId="b" dataKey="x" type="number" domain={p.xd} allowDataOverflow ticks={p.xt} interval={0}
          orientation="bottom" height={1} tickSize={0} tickMargin={0} axisLine={AX} tickLine={false} tick={bTick(xlab)} />
        <XAxis xAxisId="t" dataKey="x" type="number" domain={p.xd} allowDataOverflow ticks={p.xt} interval={0}
          orientation="top" height={1} tickSize={0} tickMargin={0} axisLine={AX} tickLine={false} tick={tTick} />
        <YAxis yAxisId="l" dataKey="y" type="number" domain={yd} allowDataOverflow ticks={yt} interval={0}
          orientation="left" width={1} tickSize={0} tickMargin={0} axisLine={AX} tickLine={false} tick={lTick(showY)} />
        <YAxis yAxisId="r" dataKey="y" type="number" domain={yd} allowDataOverflow ticks={yt} interval={0}
          orientation="right" width={1} tickSize={0} tickMargin={0} axisLine={AX} tickLine={false} tick={rTick} />
        {vls.map((d, i) => (
          <Line key={"v" + i} xAxisId="b" yAxisId="l" data={d} dataKey="y" stroke="#b4b4b4" strokeWidth={1.5}
            dot={false} activeDot={false} isAnimationActive={false} />
        ))}
        <Scatter xAxisId="b" yAxisId="l" data={xy(p.pts)} dataKey="y" fill={color} shape={dot} isAnimationActive={false} />
        <Line xAxisId="b" yAxisId="l" data={xy(p.fit)} dataKey="y" stroke="#000" strokeWidth={1.4}
          dot={false} activeDot={false} isAnimationActive={false} />
      </ComposedChart>
    </div>
  );
}

export default function App() {
  const letters: [string, number][] = [["a", 33], ["b", 221], ["c", 607]];
  return (
    <div style={{ position: "absolute", left: 0, top: 0, width: 831, height: 971, background: "#fff", fontFamily: FONT, overflow: "hidden" }}>
      {rows.map((r, ri) =>
        r.panels.map((p, pi) => {
          const g = pi < 3 ? 0 : 1;
          return (
            <Panel key={ri + "-" + pi} p={p} L={r.frames[pi][0]} R={r.frames[pi][1]} T={r.top} B={r.bottom}
              yd={r.yd[g]} yt={r.yt[g]} showY={pi === 0 || pi === 3} color={COLORS[pi]} />
          );
        })
      )}
      <svg width={831} height={971} style={{ position: "absolute", left: 0, top: 0, pointerEvents: "none" }}>
        {letters.map(([t, y]) => (
          <text key={t} x={-1} y={y} fontSize={30} fontFamily={FONT} fill="#000">{t}</text>
        ))}
        {rows.map((r, ri) => {
          const cy = (r.top + r.bottom) / 2;
          const x = r.frames[0][0] - 33;
          const out: any[] = [
            <text key={"yl" + ri} x={x} y={cy} transform={`rotate(-90 ${x} ${cy})`} textAnchor="middle"
              fontSize={12.5} fontFamily={FONT} fill="#000">
              |S<tspan fontSize={9} dy={3}>21</tspan><tspan dy={-3}>| [dB]</tspan>
            </text>,
          ];
          [1, 4].forEach((pi, k) => {
            const cx = (r.frames[pi][0] + r.frames[pi][1]) / 2;
            out.push(
              <text key={"xl" + ri + pi} x={cx} y={r.bottom + 27} textAnchor="middle" fontSize={12} fontFamily={FONT} fill="#000">
                Frequency [GHz]
              </text>
            );
            out.push(
              <text key={"tt" + ri + pi} x={cx} y={r.top - 4.5} textAnchor="middle" fontSize={12} fontFamily={FONT} fill="#000">
                {titles[ri][k]}
              </text>
            );
          });
          return <g key={"r" + ri}>{out}</g>;
        })}
      </svg>
    </div>
  );
}
